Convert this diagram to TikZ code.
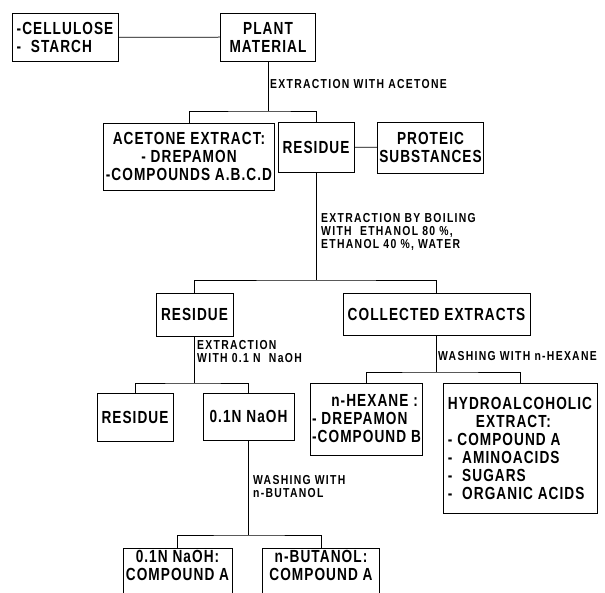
\documentclass[tikz,border=0pt]{standalone}
\usepackage{fontspec}
\newfontfamily\lettering{Liberation Sans}[FakeStretch=0.78,LetterSpace=6]
\newfontfamily\labletter{Liberation Sans}[FakeStretch=0.8,LetterSpace=10]
\newcommand{\boxfont}{\lettering\bfseries\fontsize{17.5}{18}\selectfont}
\newcommand{\labfont}{\labletter\bfseries\fontsize{13}{13}\selectfont}
\usetikzlibrary{positioning}

\begin{document}
\begin{tikzpicture}[x=1pt,y=-1pt,
    box/.style={draw, line width=0.9pt, font=\boxfont, align=center, inner sep=2pt},
    lab/.style={font=\labfont, align=left, anchor=north west, inner sep=0pt},
    link/.style={line width=0.75pt}]
  \clip (0,0) rectangle (605,592);
  \node[box, align=left, minimum width=106, minimum height=48] (cell) at (65,37.5) {-CELLULOSE\\- \ STARCH};
  \node[box, minimum width=95, minimum height=48] (plant) at (268,37) {PLANT\\MATERIAL};
  \node[box, minimum width=164, minimum height=67] (acet) at (189,156.5) {ACETONE EXTRACT:\\- DREPAMON\\-COMPOUNDS A.B.C.D};
  \node[box, minimum width=76, minimum height=50] (res1) at (316,147) {RESIDUE};
  \node[box, minimum width=105, minimum height=51] (prot) at (430.5,147.5) {PROTEIC\\SUBSTANCES};
  \node[box, minimum width=77, minimum height=43] (res2) at (194.5,314.5) {RESIDUE};
  \node[box, minimum width=187, minimum height=42] (coll) at (436.5,314) {COLLECTED EXTRACTS};
  \node[box, minimum width=76, minimum height=48] (res3) at (135,417) {RESIDUE};
  \node[box, minimum width=91, minimum height=47] (naoh) at (248.5,416.5) {0.1N NaOH};
  \node[box, align=left, minimum width=111, minimum height=72] (hex) at (366.5,419) {\hspace*{1.1em}n-HEXANE :\\- DREPAMON\\-COMPOUND B};
  \node[box, align=left, minimum width=154, minimum height=130] (hydro) at (520,448) {HYDROALCOHOLIC\\\hspace*{1.6em}EXTRACT:\\- COMPOUND A\\- \ AMINOACIDS\\- \ SUGARS\\- \ ORGANIC ACIDS};
  \node[box, anchor=north, minimum width=109] (naohA) at (177.5,548) {0.1N NaOH:\\COMPOUND A\rule[-14pt]{0pt}{14pt}};
  \node[box, anchor=north, minimum width=117] (butA) at (321,548) {n-BUTANOL:\\COMPOUND A\rule[-14pt]{0pt}{14pt}};

  \node[lab] (ex1) at (270,79) {EXTRACTION WITH ACETONE};
  \node[lab] (ex2) at (321,213) {EXTRACTION BY BOILING\\WITH \ ETHANOL 80 \%,\\ETHANOL 40 \%, WATER};
  \node[lab] (ex3) at (197,340) {EXTRACTION\\WITH 0.1 N \ NaOH};
  \node[lab] (ex4) at (438,351) {WASHING WITH n-HEXANE};
  \node[lab] (ex5) at (253,475) {WASHING WITH\\n-BUTANOL};

  \coordinate (j1) at (266,111);
  \coordinate (j2) at (317,280);
  \coordinate (j3) at (194,383);
  \coordinate (j4) at (249,535);
  \coordinate (j5) at (437,372);
  \draw[link] (cell) -- (plant);
  \draw[link] (plant) -- (plant |- j1);
  \draw[link] (acet) |- (j1) -| (res1);
  \draw[link] (res1) -- (prot);
  \draw[link] (res1) -- (res1 |- j2);
  \draw[link] (res2) |- (j2) -| (coll);
  \draw[link] (res2) -- (res2 |- j3);
  \draw[link] (res3) |- (j3) -| (naoh);
  \draw[link] (naoh) -- (naoh |- j4);
  \draw[link] (naohA) |- (j4) -| (butA);
  \draw[link] (coll) -- (coll |- j5);
  \draw[link] (hex) |- (j5) -| (hydro);
\end{tikzpicture}
\end{document}
